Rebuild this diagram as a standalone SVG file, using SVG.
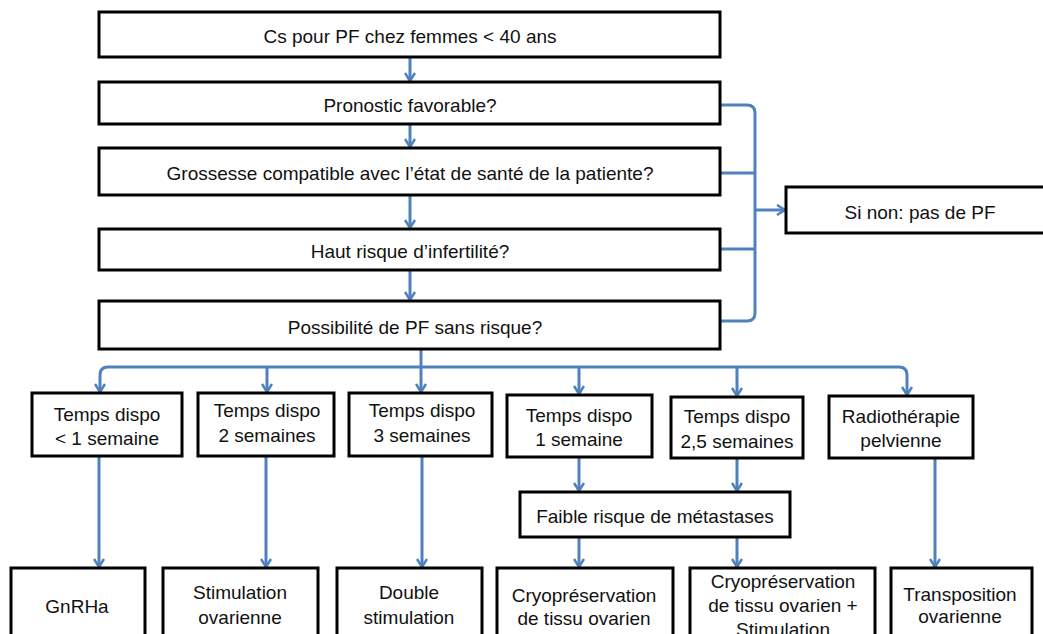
<svg xmlns="http://www.w3.org/2000/svg" width="1043" height="634" viewBox="0 0 1043 634">
<style>
.box{fill:#fff;stroke:#000;stroke-width:3}
.t{font-family:"Liberation Sans",Arial,sans-serif;font-size:19px;fill:#111;text-anchor:middle}
.c{fill:none;stroke:#4F81BD;stroke-width:3}
.a{marker-end:url(#arr)}
</style>
<defs>
<marker id="arr" viewBox="0 0 12 12" markerWidth="12" markerHeight="12" refX="10" refY="6" orient="auto" markerUnits="userSpaceOnUse">
<path d="M2,1 L10,6 L2,11" fill="none" stroke="#4F81BD" stroke-width="2.5"/>
</marker>
</defs>
<rect width="1043" height="634" fill="#fff"/>
<g id="connectors">
<path class="c a" d="M410,57 V81"/>
<path class="c a" d="M410,124 V147"/>
<path class="c a" d="M410,195 V228"/>
<path class="c a" d="M410,270 V300"/>
<path class="c" d="M720,105 H747 Q755,105 755,113 V313 Q755,321 747,321 H720"/>
<path class="c" d="M720,173 H755 M720,249 H755"/>
<path class="c a" d="M755,210 H785"/>
<path class="c a" d="M421,349 V392"/>
<path class="c a" d="M421,367 H108 Q100,367 100,375 V392"/>
<path class="c a" d="M421,367 H899 Q907,367 907,375 V395"/>
<path class="c a" d="M267,367 V392"/>
<path class="c a" d="M579,367 V394"/>
<path class="c a" d="M737,367 V396"/>
<path class="c a" d="M99,456 V567"/>
<path class="c a" d="M266,456 V567"/>
<path class="c a" d="M422,456 V567"/>
<path class="c a" d="M579,457 V491"/>
<path class="c a" d="M737,458 V491"/>
<path class="c a" d="M935,458 V567"/>
<path class="c a" d="M579,537 V567"/>
<path class="c a" d="M737,537 V567"/>
</g>
<g id="n1"><rect class="box" x="99" y="12" width="621" height="45"/><text class="t" x="410" y="43">Cs pour PF chez femmes &lt; 40 ans</text></g>
<g id="n2"><rect class="box" x="99" y="82" width="621" height="42"/><text class="t" x="410" y="112">Pronostic favorable?</text></g>
<g id="n3"><rect class="box" x="99" y="148" width="621" height="47"/><text class="t" x="410" y="180">Grossesse compatible avec l’état de santé de la patiente?</text></g>
<g id="n4"><rect class="box" x="99" y="229" width="621" height="41"/><text class="t" x="410" y="258">Haut risque d’infertilité?</text></g>
<g id="n5"><rect class="box" x="99" y="301" width="621" height="48"/><text class="t" x="415" y="334">Possibilité de PF sans risque?</text></g>
<g id="n6"><rect class="box" x="786" y="187" width="268" height="46"/><text class="t" x="920" y="219">Si non: pas de PF</text></g>
<g id="n7"><rect class="box" x="32" y="393" width="150" height="63"/><text class="t" x="107" y="421">Temps dispo</text><text class="t" x="107" y="445">&lt; 1 semaine</text></g>
<g id="n8"><rect class="box" x="198" y="393" width="136" height="63"/><text class="t" x="267" y="417">Temps dispo</text><text class="t" x="267" y="442">2 semaines</text></g>
<g id="n9"><rect class="box" x="349" y="393" width="143" height="63"/><text class="t" x="422" y="417">Temps dispo</text><text class="t" x="422" y="442">3 semaines</text></g>
<g id="n10"><rect class="box" x="507" y="395" width="145" height="62"/><text class="t" x="579" y="422">Temps dispo</text><text class="t" x="579" y="446">1 semaine</text></g>
<g id="n11"><rect class="box" x="671" y="397" width="132" height="61"/><text class="t" x="737" y="423">Temps dispo</text><text class="t" x="737" y="448">2,5 semaines</text></g>
<g id="n12"><rect class="box" x="829" y="396" width="144" height="62"/><text class="t" x="901" y="423">Radiothérapie</text><text class="t" x="901" y="447">pelvienne</text></g>
<g id="n13"><rect class="box" x="520" y="492" width="270" height="45"/><text class="t" x="655" y="523">Faible risque de métastases</text></g>
<g id="n14"><rect class="box" x="11" y="568" width="134" height="80"/><text class="t" x="77" y="613">GnRHa</text></g>
<g id="n15"><rect class="box" x="163" y="568" width="155" height="80"/><text class="t" x="240" y="599">Stimulation</text><text class="t" x="240" y="624">ovarienne</text></g>
<g id="n16"><rect class="box" x="337" y="568" width="145" height="80"/><text class="t" x="409" y="599">Double</text><text class="t" x="409" y="624">stimulation</text></g>
<g id="n17"><rect class="box" x="497" y="568" width="176" height="80"/><text class="t" x="584" y="602">Cryopréservation</text><text class="t" x="584" y="625">de tissu ovarien</text></g>
<g id="n18"><rect class="box" x="690" y="568" width="185" height="80"/><text class="t" x="783" y="588">Cryopréservation</text><text class="t" x="783" y="612">de tissu ovarien +</text><text class="t" x="783" y="636">Stimulation</text></g>
<g id="n19"><rect class="box" x="891" y="568" width="141" height="80"/><text class="t" x="960" y="601">Transposition</text><text class="t" x="960" y="623">ovarienne</text></g>
</svg>
